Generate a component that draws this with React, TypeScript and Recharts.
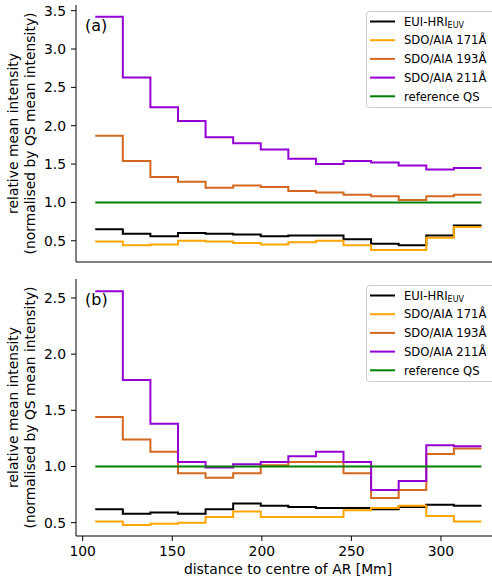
import React from 'react';
import { LineChart, Line, XAxis, YAxis } from 'recharts';

// bin edges (distance to centre of AR, Mm)
const distanceEdges = [107.0, 122.4, 137.8, 153.2, 168.6, 184.0, 199.4, 214.8, 230.2, 245.6, 261.0, 276.4, 291.8, 307.2, 322.6];

// panel (a)
const euiA = [0.65, 0.59, 0.56, 0.60, 0.59, 0.58, 0.56, 0.57, 0.57, 0.52, 0.46, 0.44, 0.57, 0.70];
const aia171A = [0.49, 0.44, 0.45, 0.50, 0.49, 0.47, 0.45, 0.48, 0.50, 0.44, 0.38, 0.38, 0.54, 0.68];
const aia193A = [1.87, 1.54, 1.33, 1.27, 1.19, 1.22, 1.20, 1.15, 1.13, 1.10, 1.08, 1.03, 1.08, 1.10];
const aia211A = [3.42, 2.63, 2.24, 2.06, 1.85, 1.77, 1.69, 1.57, 1.50, 1.54, 1.52, 1.48, 1.43, 1.45];

// panel (b)
const euiB = [0.62, 0.58, 0.59, 0.58, 0.62, 0.67, 0.65, 0.64, 0.63, 0.63, 0.62, 0.64, 0.66, 0.65];
const aia171B = [0.51, 0.48, 0.49, 0.50, 0.55, 0.60, 0.55, 0.55, 0.55, 0.61, 0.63, 0.65, 0.56, 0.51];
const aia193B = [1.44, 1.24, 1.13, 0.94, 0.90, 0.94, 1.01, 1.04, 1.04, 0.94, 0.72, 0.79, 1.11, 1.16];
const aia211B = [2.56, 1.77, 1.38, 1.04, 0.99, 1.02, 1.04, 1.09, 1.13, 1.04, 0.79, 0.87, 1.19, 1.18];

const referenceQS = 1.0;

const xTicks = [100, 150, 200, 250, 300];
const yTicksA = [0.5, 1.0, 1.5, 2.0, 2.5, 3.0, 3.5];
const yTicksB = [0.5, 1.0, 1.5, 2.0, 2.5];

const seriesNames = ['EUI-HRI', 'SDO/AIA 171Å', 'SDO/AIA 193Å', 'SDO/AIA 211Å', 'reference QS'];
const seriesColors = ['#000000', '#ffa500', '#d2691e', '#9400d3', '#008000'];

const FONT = 'DejaVu Sans';
const X_DOMAIN: [number, number] = [96.26, 332.96];

function buildRows(eui: number[], a171: number[], a193: number[], a211: number[]) {
  return distanceEdges.map((d, i) => {
    const k = Math.min(i, eui.length - 1);
    return { d, eui: eui[k], a171: a171[k], a193: a193[k], a211: a211[k], qs: referenceQS };
  });
}

const rowsA = buildRows(euiA, aia171A, aia193A, aia211A);
const rowsB = buildRows(euiB, aia171B, aia193B, aia211B);
const keys = ['eui', 'a171', 'a193', 'a211', 'qs'];

const tickStyle = { fill: '#000', fontSize: 13.9, fontFamily: FONT };
const spine = { stroke: '#000', strokeWidth: 1 };

function Panel(props: { rows: any[]; yDomain: [number, number]; yTicks: number[]; height: number; xHeight: number; showXLabels: boolean }) {
  const { rows, yDomain, yTicks, height, xHeight, showXLabels } = props;
  return (
    <LineChart width={520} height={height} data={rows} margin={{ top: 5, right: 20, left: 0, bottom: 0 }}>
      <XAxis
        dataKey="d"
        type="number"
        domain={X_DOMAIN}
        allowDataOverflow
        ticks={xTicks}
        height={xHeight}
        tickSize={5}
        tickMargin={5}
        axisLine={spine}
        tickLine={spine}
        tick={showXLabels ? tickStyle : false}
        interval={0}
      />
      <XAxis
        xAxisId="top"
        orientation="top"
        dataKey="d"
        type="number"
        domain={X_DOMAIN}
        allowDataOverflow
        height={0}
        tick={false}
        tickLine={false}
        axisLine={spine}
      />
      <YAxis
        type="number"
        domain={yDomain}
        allowDataOverflow
        ticks={yTicks}
        width={76}
        tickSize={5}
        tickMargin={5}
        axisLine={spine}
        tickLine={spine}
        tick={tickStyle}
        tickFormatter={(v: number) => v.toFixed(1)}
        interval={0}
      />
      {keys.map((k, i) => (
        <Line
          key={k}
          dataKey={k}
          type="stepAfter"
          stroke={seriesColors[i]}
          strokeWidth={2}
          dot={false}
          activeDot={false}
          isAnimationActive={false}
        />
      ))}
    </LineChart>
  );
}

function LegendBox(props: { top: number }) {
  const left = 366;
  const top = props.top;
  const rowCenters = [10.5, 29.2, 47.9, 66.6, 85.3];
  return (
    <g>
      <rect x={left + 0.5} y={top + 0.5} width={130} height={96} rx={3} ry={3} fill="rgba(255,255,255,0.8)" stroke="#cccccc" strokeWidth={1} />
      {seriesNames.map((name, i) => {
        const cy = top + rowCenters[i];
        return (
          <g key={name}>
            <line x1={370} x2={395} y1={cy} y2={cy} stroke={seriesColors[i]} strokeWidth={2} />
            <text x={404} y={cy + 4.2} fontSize={11.6} fontFamily={FONT} fill="#000">
              {name}
              {i === 0 ? (
                <tspan fontSize={8} dy={2.5}>EUV</tspan>
              ) : null}
            </text>
          </g>
        );
      })}
    </g>
  );
}

function YLabel(props: { cy: number }) {
  const { cy } = props;
  const b1 = 18.4;
  const b2 = 35.2;
  return (
    <g fontFamily={FONT} fontSize={13.9} fill="#000">
      <text x={b1} y={cy} textAnchor="middle" transform={`rotate(-90 ${b1} ${cy})`}>relative mean intensity</text>
      <text x={b2} y={cy} textAnchor="middle" transform={`rotate(-90 ${b2} ${cy})`}>(normalised by QS mean intensity)</text>
    </g>
  );
}

export default function App() {
  return (
    <div style={{ position: 'absolute', left: 0, top: 0, width: 492, height: 581, overflow: 'hidden', background: '#fff' }}>
      <div style={{ position: 'absolute', left: 0, top: 0 }}>
        <Panel rows={rowsA} yDomain={[0.223, 3.574]} yTicks={yTicksA} height={280} xHeight={18} showXLabels={false} />
      </div>
      <div style={{ position: 'absolute', left: 0, top: 274 }}>
        <Panel rows={rowsB} yDomain={[0.381, 2.669]} yTicks={yTicksB} height={307} xHeight={45} showXLabels={true} />
      </div>
      <svg width={492} height={581} style={{ position: 'absolute', left: 0, top: 0, pointerEvents: 'none' }}>
        <text x={85} y={30.6} fontSize={16} fontFamily={FONT} fill="#000">(a)</text>
        <text x={85} y={304.6} fontSize={16} fontFamily={FONT} fill="#000">(b)</text>
        <LegendBox top={11} />
        <LegendBox top={285} />
        <YLabel cy={133.5} />
        <YLabel cy={407.5} />
        <text x={288} y={574} textAnchor="middle" fontSize={13.9} fontFamily={FONT} fill="#000">distance to centre of AR [Mm]</text>
      </svg>
    </div>
  );
}
